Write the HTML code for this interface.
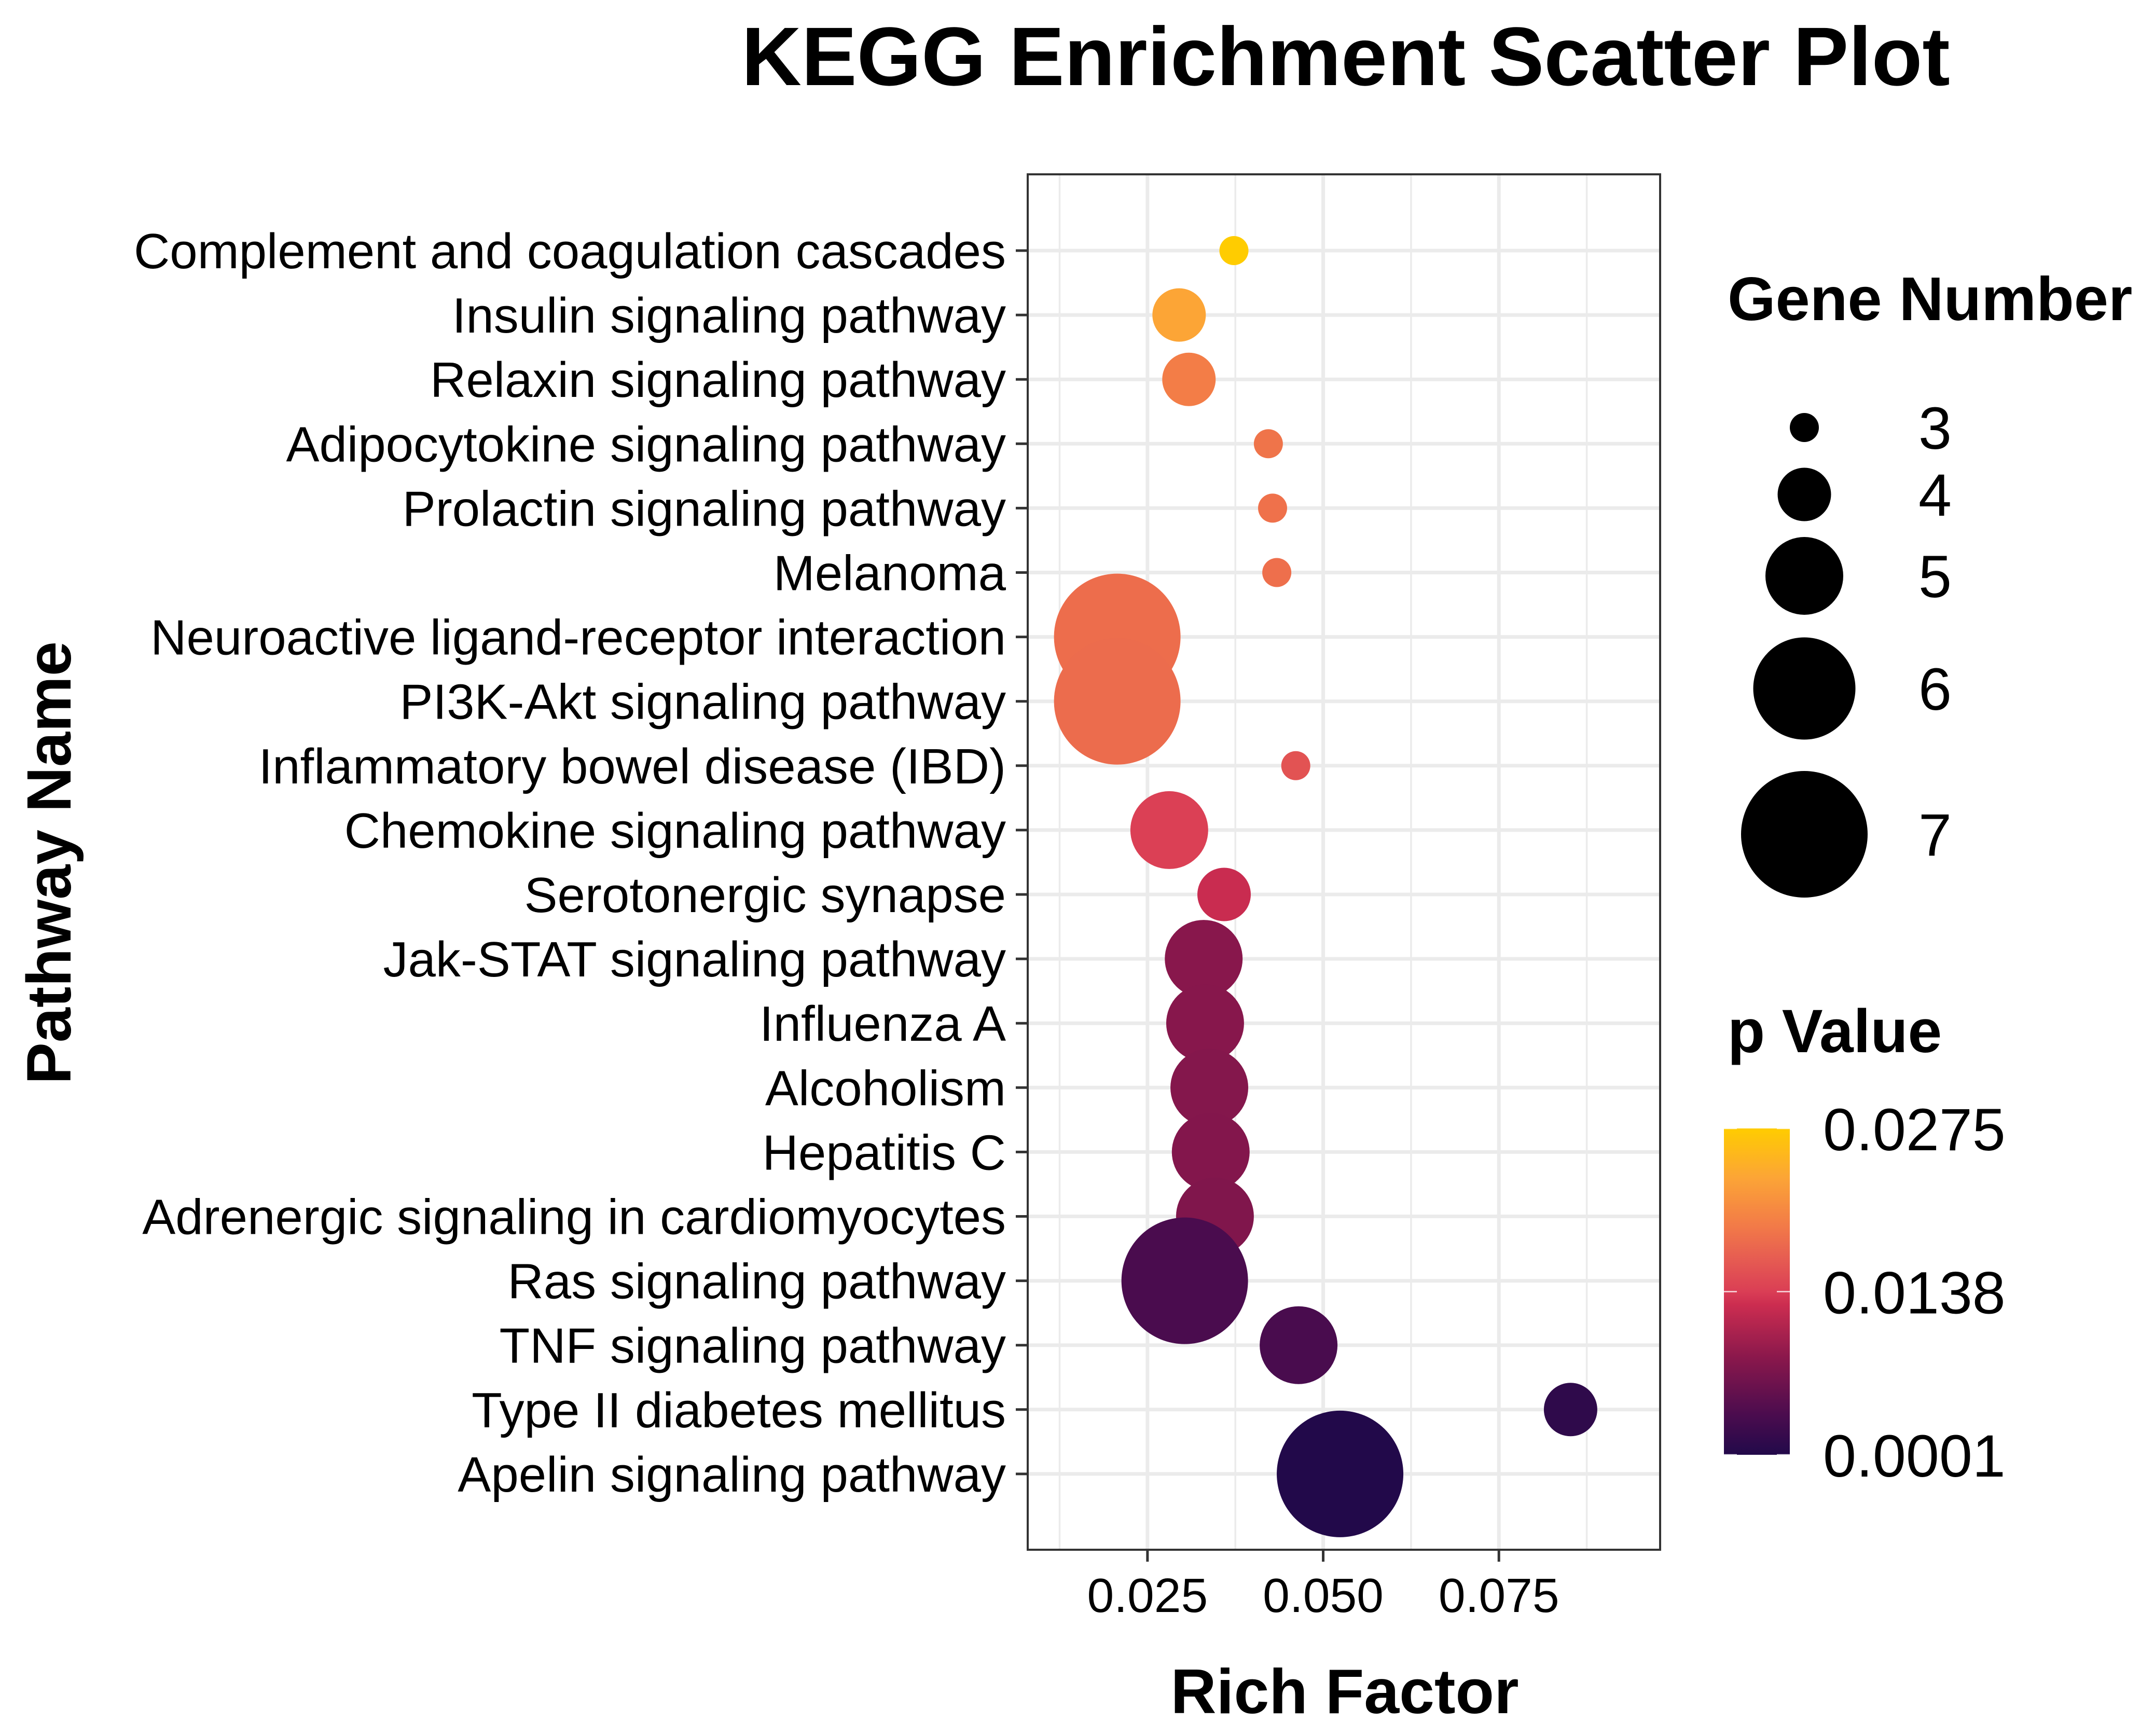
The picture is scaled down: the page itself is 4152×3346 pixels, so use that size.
<!DOCTYPE html>
<html><head><meta charset="utf-8">
<style>
html,body{margin:0;padding:0;background:#fff;}
svg{display:block;font-family:"Liberation Sans",Arial,sans-serif;}
</style></head>
<body>
<svg id="chart" width="4152" height="3346" viewBox="0 0 4152 3346" xmlns="http://www.w3.org/2000/svg">
<defs>
<linearGradient id="pgrad" x1="0" y1="1" x2="0" y2="0">
<stop offset="0" stop-color="#22094A"/>
<stop offset="0.12" stop-color="#4A0C4E"/>
<stop offset="0.3" stop-color="#8B184C"/>
<stop offset="0.46" stop-color="#CC2D50"/>
<stop offset="0.5" stop-color="#DA3E55"/>
<stop offset="0.6" stop-color="#E65C52"/>
<stop offset="0.7" stop-color="#F27A48"/>
<stop offset="0.85" stop-color="#FCA536"/>
<stop offset="1" stop-color="#FFCC00"/>
</linearGradient>
</defs>
<text x="2594" y="164" font-size="160" font-weight="bold" text-anchor="middle">KEGG Enrichment Scatter Plot</text>
<rect x="1981" y="336" width="1219" height="2651" fill="#fff"/>
<g id="grid"></g>
<g id="points"></g>
<rect x="1981" y="336" width="1219" height="2651" fill="none" stroke="#333" stroke-width="4"/>
<g id="yaxis"></g>
<g id="xaxis"></g>
<text transform="translate(136,1663) rotate(-90)" font-size="121" font-weight="bold" text-anchor="middle">Pathway Name</text>
<text x="2592" y="3302" font-size="122" font-weight="bold" text-anchor="middle">Rich Factor</text>
<g id="size-legend">
<text x="3330" y="617" font-size="119" font-weight="bold">Gene Number</text>
</g>
<g id="color-legend">
<text x="3330" y="2028" font-size="118" font-weight="bold">p Value</text>
<rect x="3323" y="2175" width="127" height="629" fill="url(#pgrad)"/>
</g>
</svg>
<script>
const pathways = ["Complement and coagulation cascades","Insulin signaling pathway","Relaxin signaling pathway","Adipocytokine signaling pathway","Prolactin signaling pathway","Melanoma","Neuroactive ligand-receptor interaction","PI3K-Akt signaling pathway","Inflammatory bowel disease (IBD)","Chemokine signaling pathway","Serotonergic synapse","Jak-STAT signaling pathway","Influenza A","Alcoholism","Hepatitis C","Adrenergic signaling in cardiomyocytes","Ras signaling pathway","TNF signaling pathway","Type II diabetes mellitus","Apelin signaling pathway"];
const richFactor = [0.0373,0.0295,0.0309,0.0422,0.0428,0.0434,0.0207,0.0207,0.0461,0.0281,0.0359,0.0330,0.0332,0.0338,0.0340,0.0346,0.0303,0.0465,0.0852,0.0524];
const geneNumber = [3,4,4,3,3,3,7,7,3,5,4,5,5,5,5,5,7,5,4,7];
const pValue = [0.0275,0.0234,0.0196,0.0187,0.0185,0.0183,0.0181,0.0180,0.0157,0.0140,0.0125,0.0081,0.0080,0.0078,0.0077,0.0075,0.0034,0.0033,0.0012,0.0001];
const xTicks = [0.025,0.050,0.075];
const xTickLabels = ["0.025","0.050","0.075"];
const sizeBreaks = [3,4,5,6,7];
const colorBreaks = [0.0001,0.0138,0.0275];
const colorBreakLabels = ["0.0001","0.0138","0.0275"];

const NS="http://www.w3.org/2000/svg";
const X0=1981,X1=3200,XMIN=0.00796,XMAX=0.09794;
const xs=v=>X0+(v-XMIN)/(XMAX-XMIN)*(X1-X0);
const ROW0=483,ROWSTEP=124.1;
const ys=i=>ROW0+i*ROWSTEP;
const rs=n=>28+23.5*(n-3);
const PMIN=0.0001,PMAX=0.0275;
const stops=[[0,"#22094A"],[0.12,"#4A0C4E"],[0.3,"#8B184C"],[0.46,"#CC2D50"],[0.5,"#DA3E55"],[0.6,"#E65C52"],[0.7,"#F27A48"],[0.85,"#FCA536"],[1,"#FFCC00"]];
function hex(h){return [1,3,5].map(i=>parseInt(h.substr(i,2),16));}
function col(p){
  const t=Math.max(0,Math.min(1,(p-PMIN)/(PMAX-PMIN)));
  for(let i=1;i<stops.length;i++){
    if(t<=stops[i][0]){
      const a=stops[i-1],b=stops[i],f=(t-a[0])/(b[0]-a[0]);
      const c1=hex(a[1]),c2=hex(b[1]);
      return "rgb("+c1.map((c,k)=>Math.round(c+(c2[k]-c)*f)).join(",")+")";
    }
  }
  return stops[stops.length-1][1];
}
function mk(tag,attrs,parent){const e=document.createElementNS(NS,tag);for(const k in attrs)e.setAttribute(k,attrs[k]);parent.appendChild(e);return e;}
const grid=document.getElementById('grid'),pts=document.getElementById('points'),ya=document.getElementById('yaxis'),xa=document.getElementById('xaxis');
for(let k=0;k<xTicks.length+1;k++){
  const v=xTicks[0]-0.0125+k*0.025;
  if(v>XMIN&&v<XMAX){
    const l=mk('line',{x1:xs(v),x2:xs(v),y1:336,y2:2987,stroke:'#EBEBEB','stroke-width':3.5},grid);
    
    
  }
}
xTicks.forEach((v,i)=>{
  const l=mk('line',{x1:xs(v),x2:xs(v),y1:336,y2:2987,stroke:'#EBEBEB','stroke-width':7},grid);
  
  
  const t=mk('line',{x1:xs(v),x2:xs(v),y1:2987,y2:3010,stroke:'#333','stroke-width':5},xa);
  
  
  const tx=mk('text',{x:xs(v),y:3107,'font-size':93,'text-anchor':'middle',fill:'#000'},xa);
  tx.textContent=xTickLabels[i];
  
  
});
pathways.forEach((name,i)=>{
  const y=ys(i);
  const g=mk('line',{x1:X0,x2:X1,y1:y,y2:y,stroke:'#EBEBEB','stroke-width':7},grid);
  
  
  const t=mk('line',{x1:1958,x2:1981,y1:y,y2:y,stroke:'#333','stroke-width':5},ya);
  
  
  const tx=mk('text',{x:1939,y:y+34,'font-size':96,'text-anchor':'end',fill:'#000'},ya);
  tx.textContent=name;
  
  
});
pathways.forEach((name,i)=>{
  const c=mk('circle',{cx:xs(richFactor[i]),cy:ys(i),r:rs(geneNumber[i]),fill:col(pValue[i])},pts);
  
  
});
const sl=document.getElementById('size-legend');
const sizeY=[824,953,1110,1327,1608];
sizeBreaks.forEach((n,i)=>{
  const c=mk('circle',{cx:3478,cy:sizeY[i],r:rs(n),fill:'#000'},sl);
  
  
  const t=mk('text',{x:3698,y:sizeY[i]+41,'font-size':115},sl);
  t.textContent=String(n);
  
  
});
const cl=document.getElementById('color-legend');
const CB0=2804,CB1=2175;
const cy=p=>CB0+(p-PMIN)/(PMAX-PMIN)*(CB1-CB0);
colorBreaks.forEach((p,i)=>{
  const y=cy(p);
  const a=mk('line',{x1:3323,x2:3348,y1:y,y2:y,stroke:'#fff','stroke-width':2.5,opacity:0.8},cl);
  
  
  const b=mk('line',{x1:3425,x2:3450,y1:y,y2:y,stroke:'#fff','stroke-width':2.5,opacity:0.8},cl);
  
  
  const t=mk('text',{x:3514,y:y+42,'font-size':115},cl);
  t.textContent=colorBreakLabels[i];
  
  
});
</script>
</body></html>
